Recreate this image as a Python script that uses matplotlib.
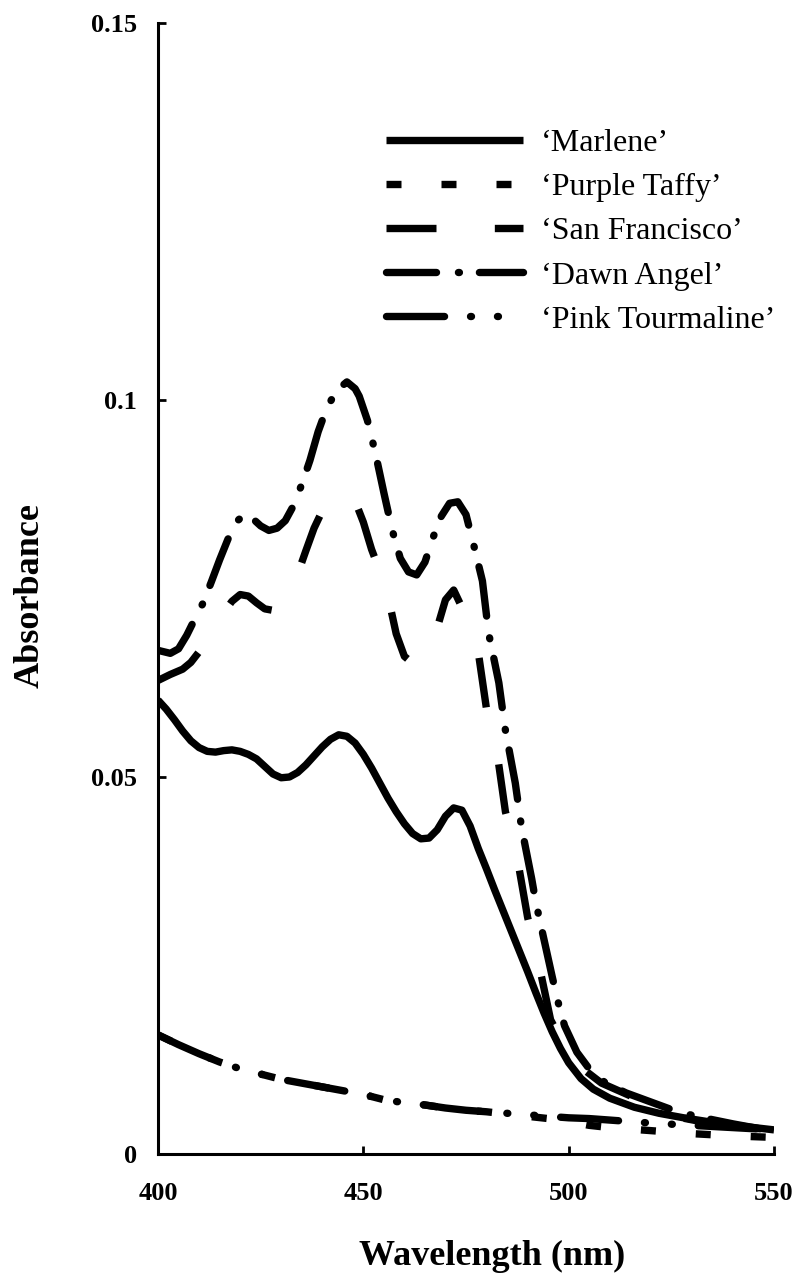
import matplotlib
matplotlib.use("Agg")
import matplotlib.pyplot as plt

plt.rcParams['font.family'] = ['Liberation Serif', 'DejaVu Serif']
plt.rcParams['lines.scale_dashes'] = False

# --- data (wavelength nm, absorbance) ---
marlene_x = [400, 402, 404, 406, 408, 410, 412, 414, 416, 418, 420, 422, 424, 426,
             428, 430, 432, 434, 436, 438, 440, 442, 444, 446, 448, 450, 452, 454,
             456, 458, 460, 462, 464, 466, 468, 470, 472, 474, 476, 478, 480, 482,
             484, 486, 488, 490, 492, 494, 496, 498, 500, 503, 506, 510, 516, 522,
             528, 535, 542, 550]
marlene_y = [0.0602, 0.0590, 0.0576, 0.0561, 0.0548, 0.0539, 0.0534, 0.0533, 0.0535,
             0.0536, 0.0534, 0.0530, 0.0524, 0.0514, 0.0504, 0.0499, 0.0500, 0.0506,
             0.0516, 0.0528, 0.0540, 0.0550, 0.0556, 0.0554, 0.0545, 0.0530, 0.0512,
             0.0492, 0.0472, 0.0454, 0.0438, 0.0425, 0.0418, 0.0419, 0.0430, 0.0448,
             0.0459, 0.0456, 0.0435, 0.0405, 0.0378, 0.0350, 0.0323, 0.0296, 0.0269,
             0.0242, 0.0214, 0.0187, 0.0162, 0.0140, 0.0121, 0.0100, 0.0086, 0.0074,
             0.0062, 0.0054, 0.0048, 0.0042, 0.0037, 0.0032]

taffy_x = [400, 405, 410, 415, 420, 425, 430, 435, 440, 445, 450, 455, 460, 465,
           470, 475, 480, 485, 490, 495, 500, 505, 510, 515, 520, 530, 540, 550]
taffy_y = [0.0158, 0.0145, 0.0133, 0.0122, 0.0113, 0.0106, 0.0099, 0.0094, 0.0089,
           0.0084, 0.0079, 0.0072, 0.0068, 0.0065, 0.0061, 0.0058, 0.0056, 0.0053,
           0.0050, 0.0047, 0.0043, 0.0038, 0.0035, 0.0033, 0.0031, 0.0027, 0.0024,
           0.0022]

sanfran_x = [400, 403, 406, 408, 410, 412, 414, 416, 418, 420, 422, 424, 426, 428,
             430, 432, 434, 436, 438, 440, 442, 444, 446, 448, 450, 452, 454, 456,
             458, 460, 462, 464, 466, 468, 470, 472, 474, 476, 478, 480, 482.6, 484.6,
             487.5, 490, 492.7, 495.6, 499, 503, 508, 513.4, 520, 525.6, 535, 550]
sanfran_y = [0.0628, 0.0636, 0.0643, 0.0652, 0.0666, 0.0685, 0.0700, 0.0718, 0.0733,
             0.0742, 0.0740, 0.0731, 0.0723, 0.0721, 0.0728, 0.0745, 0.0769, 0.0800,
             0.0830, 0.0853, 0.0867, 0.0875, 0.0877, 0.0866, 0.0838, 0.0802, 0.0773,
             0.0740, 0.0690, 0.0660, 0.0651, 0.0655, 0.0670, 0.0698, 0.0735, 0.0748,
             0.0725, 0.0697, 0.0665, 0.0590, 0.0531, 0.0454, 0.0392, 0.0314, 0.0253,
             0.0178, 0.0143, 0.0115, 0.0094, 0.0081, 0.0065, 0.0050, 0.0040, 0.0030]

dawn_x = [400, 403, 405, 407, 409, 411, 413, 415, 417, 419, 421, 423, 425, 427, 429,
          431, 433, 435, 437, 439, 441, 443, 444, 446, 448, 449, 451, 453, 455, 457,
          459, 461, 463, 465, 467, 469, 471, 473, 475, 477, 479, 480.5, 483, 484.5,
          487, 488.5, 491, 492, 493.2, 496, 497.3, 499, 502, 505, 509, 514, 520, 526,
          531, 540, 550]
dawn_y = [0.0668, 0.0664, 0.0670, 0.0688, 0.0710, 0.0731, 0.0759, 0.0788, 0.0815,
          0.0838, 0.0848, 0.0843, 0.0833, 0.0827, 0.0830, 0.0840, 0.0860, 0.0888,
          0.0920, 0.0958, 0.0988, 0.1008, 0.1015, 0.1024, 0.1015, 0.1005, 0.0973,
          0.0928, 0.0877, 0.0828, 0.0790, 0.0772, 0.0768, 0.0785, 0.0818, 0.0846,
          0.0863, 0.0865, 0.0848, 0.0805, 0.0760, 0.0691, 0.0625, 0.0565, 0.0492,
          0.0434, 0.0365, 0.0334, 0.0304, 0.0235, 0.0204, 0.0170, 0.0135, 0.0113,
          0.0094, 0.0081, 0.0069, 0.0057, 0.0050, 0.0040, 0.0030]

pink_x = [400, 405, 410, 415, 420, 425, 430, 435, 440, 445, 450, 455, 460, 465, 470,
          475, 480, 485, 490, 495, 500, 505, 510, 515, 520, 530, 540, 550]
pink_y = [0.0158, 0.0145, 0.0133, 0.0122, 0.0113, 0.0106, 0.0099, 0.0094, 0.0089,
          0.0084, 0.0079, 0.0072, 0.0068, 0.0065, 0.0061, 0.0058, 0.0056, 0.0054,
          0.0052, 0.0050, 0.0048, 0.0047, 0.0045, 0.0043, 0.0041, 0.0038, 0.0035,
          0.0032]

labels = ['\u2018Marlene\u2019', '\u2018Purple Taffy\u2019', '\u2018San Francisco\u2019',
          '\u2018Dawn Angel\u2019', '\u2018Pink Tourmaline\u2019']

lw = 5.3
fig = plt.figure(figsize=(7.99, 12.83), dpi=100)
ax = fig.add_axes([158 / 799, 1 - 1154 / 1283, 616 / 799, 1131 / 1283])

common = dict(color='black', lw=lw, solid_joinstyle='round', dash_joinstyle='round')
ax.plot(marlene_x, marlene_y, solid_capstyle='butt', label=labels[0], **common)
ax.plot(taffy_x, taffy_y, dashes=(10.8, 28.8), dash_capstyle='butt',
        label=labels[1], **common)
ax.plot(sanfran_x, sanfran_y, dashes=(36, 42), dash_capstyle='butt',
        label=labels[2], **common)
ax.plot(dawn_x, dawn_y, dashes=(36, 15.8, 0.7, 14.4), dash_capstyle='round',
        label=labels[3], **common)
ax.plot(pink_x, pink_y, dashes=(41.8, 18.7, 0.7, 18.7, 0.7, 18.7),
        dash_capstyle='round', label=labels[4], **common)

ax.set_xlim(400, 550)
ax.set_ylim(0, 0.15)
ax.set_xticks([400, 450, 500, 550])
ax.set_yticks([0, 0.05, 0.1, 0.15])
ax.set_yticklabels(['0', '0.05', '0.1', '0.15'])

for side in ['top', 'right']:
    ax.spines[side].set_visible(False)
for side in ['left', 'bottom']:
    ax.spines[side].set_linewidth(2.2)
ax.tick_params(direction='in', length=6, width=2, labelsize=19)
ax.tick_params(axis='y', pad=15)
ax.tick_params(axis='x', pad=20)
for t in ax.get_xticklabels() + ax.get_yticklabels():
    t.set_fontweight('bold')

ax.set_xlabel('Wavelength (nm)', fontsize=26, fontweight='bold')
ax.xaxis.set_label_coords((492 - 158) / 616, -0.076)
ax.set_ylabel('Absorbance', fontsize=26, fontweight='bold')
ax.yaxis.set_label_coords(-0.18, 0.494)

ax.legend(loc='upper left', bbox_to_anchor=(386 / 799, 1 - 129 / 1283),
          bbox_transform=fig.transFigure, frameon=False, fontsize=23,
          handlelength=4.3, handletextpad=0.55, labelspacing=0.46,
          borderpad=0, borderaxespad=0)

fig.savefig('out.png', dpi=100)
